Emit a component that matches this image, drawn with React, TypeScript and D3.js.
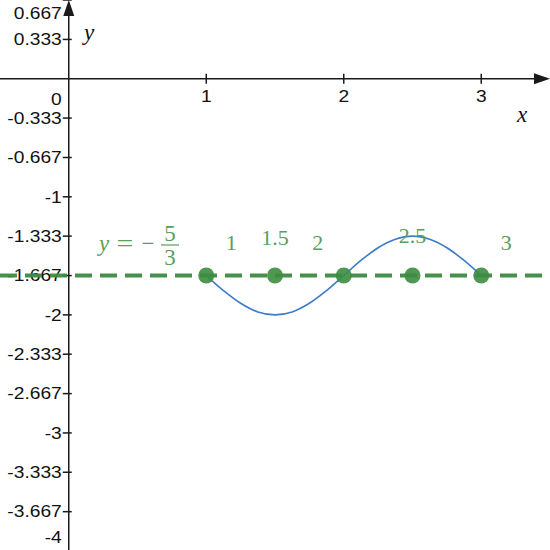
import { useEffect, useRef } from "react";
import * as d3 from "d3";

// tick labels
const xTickLabels = ["1", "2", "3"];
const yTickLabels = [
  "0.667", "0.333", "-0.333", "-0.667", "-1", "-1.333", "-1.667",
  "-2", "-2.333", "-2.667", "-3", "-3.333", "-3.667", "-4",
];

// blue curve
const curveX = [1, 1.125, 1.25, 1.375, 1.5, 1.625, 1.75, 1.875, 2, 2.125, 2.25, 2.375, 2.5, 2.625, 2.75, 2.875, 3];
const curveY = [-1.667, -1.794, -1.902, -1.975, -2, -1.975, -1.902, -1.794, -1.667, -1.539, -1.431, -1.359, -1.333, -1.359, -1.431, -1.539, -1.667];

// green points on y = -5/3 and their labels
const pointX = [1, 1.5, 2, 2.5, 3];
const pointLabels = ["1", "1.5", "2", "2.5", "3"];
const lineY = -5 / 3;

const W = 550;
const H = 550;
const SX = 1.2; // tick text is drawn a bit wider than tall

export default function App() {
  const svgRef = useRef<SVGSVGElement>(null);

  useEffect(() => {
    if (!svgRef.current) return;
    const svg = d3.select(svgRef.current);
    svg.selectAll("*").remove();

    const x = d3.scaleLinear().domain([-0.5, 3.5]).range([0, W]);
    const y = d3.scaleLinear().domain([-4, 0.667]).range([H + 1, 0]);
    const axisColor = "#1a1a1a";
    const green = "#3c8c40";
    const labelGreen = "#5a9e5c";
    const sans = "Liberation Sans, Arial, sans-serif";
    const serif = "Liberation Serif, Times New Roman, serif";

    const x0 = x(0);
    const y0 = y(0);

    const tickText = (g: any, px: number, py: number, anchor: string, t: string) =>
      g.append("text")
        .attr("transform", `translate(${px},${py}) scale(${SX},1)`)
        .attr("dy", "0.36em")
        .attr("text-anchor", anchor)
        .attr("font-family", sans)
        .attr("font-size", 16)
        .attr("fill", "#111")
        .text(t);

    // axes
    svg.append("line")
      .attr("x1", 0).attr("x2", W - 12)
      .attr("y1", y0).attr("y2", y0)
      .attr("stroke", axisColor).attr("stroke-width", 1.5);
    svg.append("path")
      .attr("d", `M${W},${y0} L${W - 16},${y0 - 5.5} L${W - 16},${y0 + 5.5} Z`)
      .attr("fill", axisColor);
    svg.append("line")
      .attr("x1", x0).attr("x2", x0)
      .attr("y1", 12).attr("y2", H)
      .attr("stroke", axisColor).attr("stroke-width", 1.5);
    svg.append("path")
      .attr("d", `M${x0},0 L${x0 - 5.5},16 L${x0 + 5.5},16 Z`)
      .attr("fill", axisColor);

    // x ticks
    const gx = svg.append("g");
    xTickLabels.forEach((t) => {
      const px = x(+t);
      gx.append("line")
        .attr("x1", px).attr("x2", px)
        .attr("y1", y0 - 5).attr("y2", y0 + 5)
        .attr("stroke", axisColor).attr("stroke-width", 1.5);
      tickText(gx, px, y0 + 17, "middle", t);
    });
    tickText(svg, x0 - 7, y0 + 20, "end", "0");

    // y ticks
    const gy = svg.append("g");
    yTickLabels.forEach((t) => {
      const py = y(+t);
      gy.append("line")
        .attr("x1", x0 - 6).attr("x2", x0 + 3)
        .attr("y1", py).attr("y2", py)
        .attr("stroke", axisColor).attr("stroke-width", 1.5);
      const ly = Math.max(13, Math.min(537, py));
      tickText(gy, x0 - 7, ly, "end", t);
    });

    // axis names
    svg.append("text")
      .attr("x", 522).attr("y", 122)
      .attr("text-anchor", "middle")
      .attr("font-family", serif)
      .attr("font-style", "italic")
      .attr("font-size", 23)
      .attr("fill", "#111")
      .text("x");
    svg.append("text")
      .attr("x", 89).attr("y", 40)
      .attr("text-anchor", "middle")
      .attr("font-family", serif)
      .attr("font-style", "italic")
      .attr("font-size", 23)
      .attr("fill", "#111")
      .text("y");

    // dashed line y = -5/3
    svg.append("line")
      .attr("x1", 0).attr("x2", W)
      .attr("y1", y(lineY)).attr("y2", y(lineY))
      .attr("stroke", green)
      .attr("stroke-width", 4)
      .attr("stroke-dasharray", "17,8")
      .attr("opacity", 0.95);

    // blue curve
    const pts = curveX.map((cx, i) => [cx, curveY[i]] as [number, number]);
    svg.append("path")
      .datum(pts)
      .attr("d", d3.line<[number, number]>()
        .x((d) => x(d[0]))
        .y((d) => y(d[1]))
        .curve(d3.curveCatmullRom))
      .attr("fill", "none")
      .attr("stroke", "#3d7cc9")
      .attr("stroke-width", 1.6);

    // points
    svg.append("g")
      .selectAll("circle")
      .data(pointX)
      .enter()
      .append("circle")
      .attr("cx", (d) => x(d))
      .attr("cy", y(lineY))
      .attr("r", 8)
      .attr("fill", green)
      .attr("opacity", 0.9);

    // point labels
    const labelDx = [25, 0, -26, 0, 25];
    const labelDy = [-33, -38, -33, -40, -33];
    svg.append("g")
      .selectAll("text")
      .data(pointLabels)
      .enter()
      .append("text")
      .attr("x", (_, i) => x(pointX[i]) + labelDx[i])
      .attr("y", (_, i) => y(lineY) + labelDy[i])
      .attr("dy", "0.35em")
      .attr("text-anchor", "middle")
      .attr("font-family", serif)
      .attr("font-size", 22)
      .attr("fill", labelGreen)
      .text((d) => d);

    // equation label y = -5/3
    const eq = svg.append("g").attr("fill", labelGreen)
      .attr("font-family", serif);
    eq.append("text")
      .attr("x", 104).attr("y", 251)
      .attr("text-anchor", "middle")
      .attr("font-size", 23)
      .attr("font-style", "italic")
      .text("y");
    eq.append("text")
      .attr("transform", "translate(125,251) scale(1.3,1)")
      .attr("text-anchor", "middle")
      .attr("font-size", 23)
      .text("=");
    eq.append("text")
      .attr("x", 148).attr("y", 251)
      .attr("text-anchor", "middle")
      .attr("font-size", 23)
      .text("−");
    eq.append("text")
      .attr("x", 170).attr("y", 241)
      .attr("text-anchor", "middle")
      .attr("font-size", 23)
      .text("5");
    eq.append("line")
      .attr("x1", 161).attr("x2", 179)
      .attr("y1", 245).attr("y2", 245)
      .attr("stroke", labelGreen).attr("stroke-width", 1.2);
    eq.append("text")
      .attr("x", 170).attr("y", 265)
      .attr("text-anchor", "middle")
      .attr("font-size", 23)
      .text("3");
  }, []);

  return (
    <div style={{ position: "absolute", left: 0, top: 0 }}>
      <svg ref={svgRef} width={W} height={H} style={{ display: "block", background: "#fff" }}></svg>
    </div>
  );
}
